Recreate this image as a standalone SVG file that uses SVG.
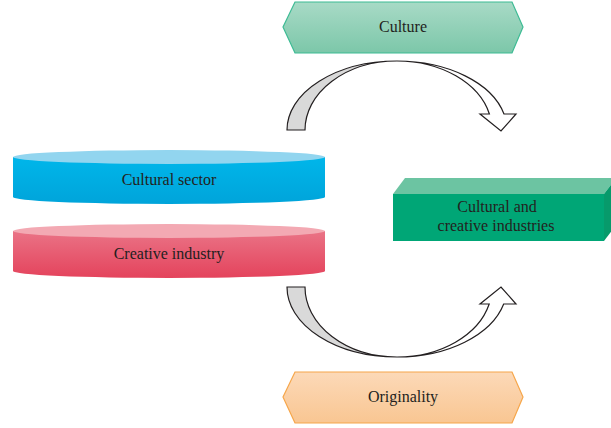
<svg xmlns="http://www.w3.org/2000/svg" width="611" height="428" viewBox="0 0 611 428">
  <style>
    .lbl { font-family: "Liberation Serif", "Times New Roman", serif; font-size: 16px; fill: #231f20; text-anchor: middle; }
    .arc { stroke: #231f20; stroke-width: 1.2; stroke-linejoin: miter; }
    .back { fill: #d9d9d9; }
    .front { fill: #ffffff; }
  </style>
  <defs>
    <linearGradient id="gCulture" x1="0" y1="0" x2="0" y2="1">
      <stop offset="0" stop-color="#a8dac6"/>
      <stop offset="1" stop-color="#7cc7a9"/>
    </linearGradient>
    <linearGradient id="gOrig" x1="0" y1="0" x2="0" y2="1">
      <stop offset="0" stop-color="#fcd9b8"/>
      <stop offset="1" stop-color="#f9c692"/>
    </linearGradient>
    <linearGradient id="gBlue" x1="0" y1="0" x2="0" y2="1">
      <stop offset="0" stop-color="#00b6ea"/>
      <stop offset="1" stop-color="#00a4da"/>
    </linearGradient>
    <linearGradient id="gRed" x1="0" y1="0" x2="0" y2="1">
      <stop offset="0" stop-color="#ea7386"/>
      <stop offset="1" stop-color="#e4435c"/>
    </linearGradient>
  </defs>

  <rect width="611" height="428" fill="#ffffff"/>

  <!-- top hexagon -->
  <g id="culture">
    <polygon points="283,27 295,2 512,2 523,27 512,53 295,53" fill="url(#gCulture)" stroke="#3dbb94" stroke-width="1.2"/>
    <text class="lbl" x="403" y="32">Culture</text>
  </g>

  <!-- bottom hexagon -->
  <g id="originality">
    <polygon points="283,397 295,372 512,372 523,397 512,423 295,423" fill="url(#gOrig)" stroke="#f6a64a" stroke-width="1.2"/>
    <text class="lbl" x="403" y="402">Originality</text>
  </g>

  <!-- blue disc -->
  <g id="cultural-sector">
    <path d="M13,157 L13,197 A156,7 0 0 0 325,197 L325,157 Z" fill="url(#gBlue)"/>
    <ellipse cx="169" cy="157" rx="156" ry="7" fill="#92d5ef"/>
    <text class="lbl" x="169" y="185">Cultural sector</text>
  </g>

  <!-- red disc -->
  <g id="creative-industry">
    <path d="M13,231 L13,271 A156,7 0 0 0 325,271 L325,231 Z" fill="url(#gRed)"/>
    <ellipse cx="169" cy="231" rx="156" ry="7" fill="#f3a9b3"/>
    <text class="lbl" x="169" y="259">Creative industry</text>
  </g>

  <!-- green block -->
  <g id="cultural-creative-industries">
    <polygon points="393,194 405,178 616,178 604,194" fill="#6cc4a2"/>
    <polygon points="604,194 616,178 616,225 604,241" fill="#079a6b"/>
    <rect x="393" y="194" width="211" height="47" fill="#00a676"/>
    <text class="lbl" x="497" y="212">Cultural and</text>
    <text class="lbl" x="496" y="231">creative industries</text>
  </g>

  <!-- curved arrows -->
  <g id="connectors">
    <g id="arrow-top">
      <path class="arc back" d="M287,130 A110,69 0 0 1 397,61 A92,69 0 0 0 305,130 Z"/>
      <path class="arc front" d="M397,61 A110,69 0 0 1 504,114 L516,114 L501,131 L480,114 L489.4,114 A95,69 0 0 0 397,61 Z"/>
    </g>
    <g id="arrow-bottom">
      <path class="arc back" d="M287,287 A110,70 0 0 0 397,357 A92,70 0 0 1 305,287 Z"/>
      <path class="arc front" d="M397,357 A110,70 0 0 0 503.7,304 L516,304 L501,287 L480,304 L489.2,304 A95,70 0 0 1 397,357 Z"/>
    </g>
  </g>
</svg>
